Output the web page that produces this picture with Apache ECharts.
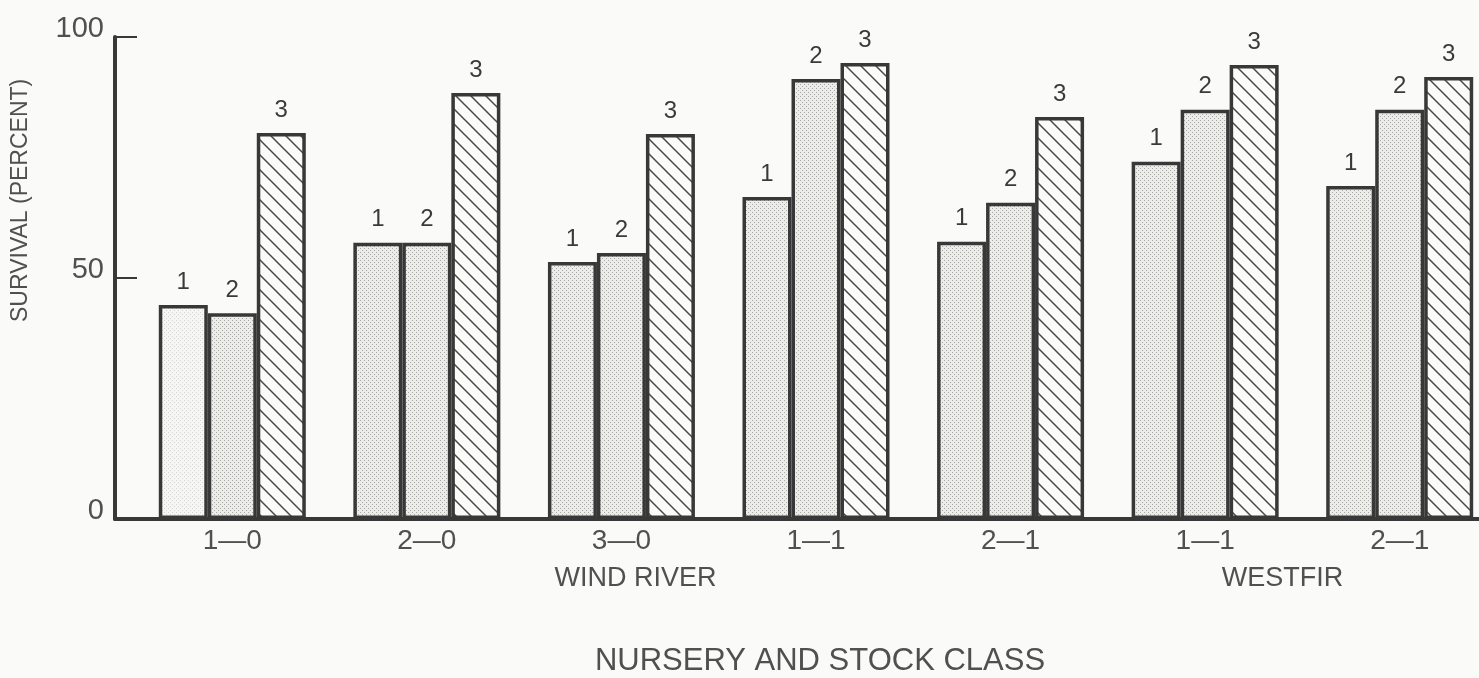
<!DOCTYPE html>
<html>
<head>
<meta charset="utf-8">
<script src="https://cdn.jsdelivr.net/npm/echarts@6/dist/echarts.min.js"></script>
<style>
html,body{margin:0;padding:0;background:#fafaf8;}
#c{width:1479px;height:678px;}
</style>
</head>
<body>
<div id="c"></div>
<script>
// ---- data ----
const categories = ['1\u20140', '2\u20140', '3\u20140', '1\u20141', '2\u20141', '1\u20141', '2\u20141'];
const seriesNames = ['1', '2', '3'];
const class1 = [44.4, 57.3, 53.3, 66.8, 57.5, 74.1, 69.1];
const class2 = [42.7, 57.3, 55.2, 91.3, 65.6, 84.9, 84.9];
const class3 = [80.1, 88.4, 79.9, 94.6, 83.4, 94.2, 91.7];
const yTicks = [0, 50, 100];
const nurseryNames = ['WIND RIVER', 'WESTFIR'];

// ---- patterns ----
function stipple(bg, dot) {
  const c = document.createElement('canvas');
  c.width = 4; c.height = 4;
  const g = c.getContext('2d');
  g.fillStyle = bg; g.fillRect(0, 0, 4, 4);
  g.fillStyle = dot;
  g.fillRect(0, 0, 1, 1);
  g.fillRect(2, 2, 1, 1);
  return c;
}
function hatch() {
  const s = 15;
  const c = document.createElement('canvas');
  c.width = s; c.height = s;
  const g = c.getContext('2d');
  g.fillStyle = '#fbfbfa'; g.fillRect(0, 0, s, s);
  g.strokeStyle = '#4a4a4a'; g.lineWidth = 1.5;
  g.beginPath();
  g.moveTo(-2, -2); g.lineTo(s + 2, s + 2);
  g.moveTo(-2, s - 2); g.lineTo(2, s + 2);
  g.moveTo(s - 2, -2); g.lineTo(s + 2, 2);
  g.stroke();
  return c;
}
const stippleFill = { image: stipple('#ecece9', '#a8a8a6'), repeat: 'repeat' };
const stippleLight = { image: stipple('#f6f6f4', '#d4d4d2'), repeat: 'repeat' };
const hatchFill = { image: hatch(), repeat: 'repeat' };

const border = '#383838';
const font = 'Liberation Sans, Arial, sans-serif';
const textGray = '#505050';

function barSeries(name, values, fill) {
  return {
    name: name,
    type: 'bar',
    xAxisIndex: 0, yAxisIndex: 0,
    barWidth: 49,
    barGap: '0%',
    data: values.map((v, i) => {
      const item = { value: v };
      if (name === '1' && i === 0) item.itemStyle = { color: stippleLight };
      return item;
    }),
    itemStyle: { color: fill, borderColor: border, borderWidth: 3.5 },
    label: {
      show: true, position: 'top', distance: 11,
      formatter: '{a}', fontSize: 24, color: '#3a3a3a', fontFamily: font
    },
    emphasis: { disabled: true },
    silent: true
  };
}

const chart = echarts.init(document.getElementById('c'), null, { renderer: 'canvas' });
chart.setOption({
  backgroundColor: '#fafaf8',
  animation: false,
  grid: [
    { left: 135, top: 37, width: 1362, bottom: 159, outerBoundsMode: 'none', containLabel: false },
    { left: 115, top: 37, right: 0, bottom: 159, outerBoundsMode: 'none', containLabel: false }
  ],
  xAxis: [
    {
      type: 'category', gridIndex: 0, data: categories,
      axisLine: { show: true, lineStyle: { color: border, width: 4 } },
      axisTick: { show: false },
      axisLabel: { fontSize: 28, color: textGray, fontFamily: font, margin: 8 },
      name: 'NURSERY AND STOCK CLASS',
      nameLocation: 'middle', nameGap: 127,
      nameTextStyle: { fontSize: 31, color: textGray, fontFamily: font, padding: [0, 0, 0, 8] }
    },
    {
      type: 'category', gridIndex: 1, data: [],
      axisLine: { show: true, lineStyle: { color: border, width: 4 } },
      axisTick: { show: false }, axisLabel: { show: false }
    }
  ],
  yAxis: [
    {
      type: 'value', gridIndex: 0, min: 0, max: 100, interval: 50,
      offset: 20,
      axisLine: { show: true, lineStyle: { color: border, width: 4 } },
      axisTick: { show: true, inside: true, length: 22, lineStyle: { color: border, width: 2 } },
      splitLine: { show: false },
      axisLabel: {
        fontSize: 29, color: textGray, fontFamily: font, margin: 11,
        verticalAlign: 'bottom', lineHeight: 16,
        formatter: v => yTicks.includes(v) ? String(v) : ''
      }
    },
    {
      type: 'value', gridIndex: 1, min: 0, max: 100, show: false
    }
  ],
  series: [
    barSeries(seriesNames[0], class1, stippleFill),
    barSeries(seriesNames[1], class2, stippleFill),
    barSeries(seriesNames[2], class3, hatchFill)
  ]
});

// nursery labels placed under the group ranges through the axis scale
const p0 = chart.convertToPixel({ xAxisIndex: 0 }, 0);
const p4 = chart.convertToPixel({ xAxisIndex: 0 }, 4);
const p5 = chart.convertToPixel({ xAxisIndex: 0 }, 5);
const p6 = chart.convertToPixel({ xAxisIndex: 0 }, 6);
chart.setOption({
  graphic: [
    {
      type: 'text', rotation: Math.PI / 2, x: 9, y: 322,
      style: { text: 'SURVIVAL (PERCENT)', fontSize: 23, fill: textGray, fontFamily: font }
    },
    {
      type: 'text', x: (p0 + p4) / 2 + 14, y: 579,
      style: { text: nurseryNames[0], fontSize: 27, fill: textGray, fontFamily: font, align: 'center', verticalAlign: 'middle' }
    },
    {
      type: 'text', x: (p5 + p6) / 2 - 20, y: 579,
      style: { text: nurseryNames[1], fontSize: 27, fill: textGray, fontFamily: font, align: 'center', verticalAlign: 'middle' }
    }
  ]
}, { replaceMerge: ['graphic'] });
</script>
</body>
</html>
